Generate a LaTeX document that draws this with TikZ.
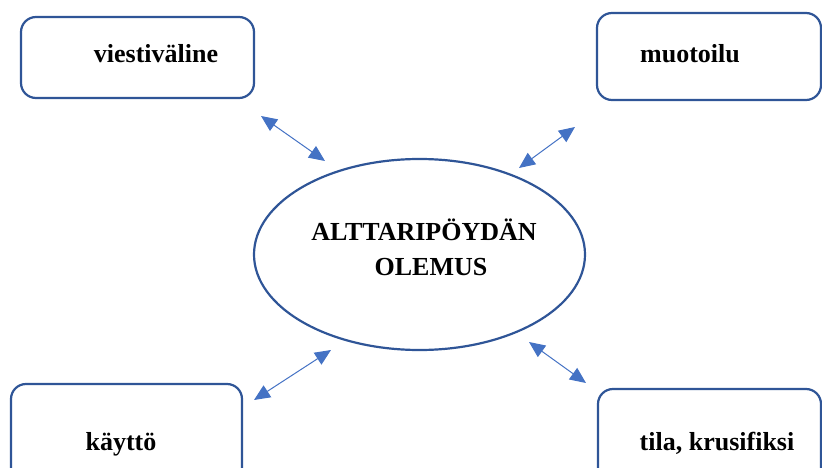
\documentclass[tikz,border=0pt]{standalone}
\usepackage{fontspec}
\setmainfont{Liberation Serif}
\usetikzlibrary{arrows.meta,shapes.geometric}
\definecolor{frameblue}{HTML}{2F5597}
\definecolor{arrowblue}{HTML}{4472C4}
\tikzset{
  topicbox/.style={draw=frameblue, line width=2.2pt, rounded corners=15pt,
    inner sep=0pt, fill=white},
  label26/.style={font=\fontsize{26}{35}\selectfont\bfseries, inner sep=0pt},
  linkarrow/.style={draw=arrowblue, line width=1pt,
    {Triangle[length=16pt,width=14pt]}-{Triangle[length=16pt,width=14pt]}}
}
\begin{document}
\begin{tikzpicture}[x=1pt,y=-1pt]
  \useasboundingbox (0,0) rectangle (822,468);
  \clip (0,0) rectangle (822,468);

  % four topic boxes
  \node[topicbox, minimum width=233pt, minimum height=81pt] (b1) at (137.5,57.5) {};
  \node[topicbox, minimum width=224pt, minimum height=87pt] (b2) at (709,56.5) {};
  \node[topicbox, minimum width=231pt, minimum height=100pt] (b3) at (126.5,434) {};
  \node[topicbox, minimum width=223pt, minimum height=100pt] (b4) at (709.5,439) {};

  \node[label26, anchor=base] (t1) at (156,63) {viestiväline};
  \node[label26, anchor=base] (t2) at (690,63) {muotoilu};
  \node[label26, anchor=base] (t3) at (121,450.5) {käyttö};
  \node[label26, anchor=base] (t4) at (717,450.5) {tila, krusifiksi};

  % central ellipse
  \node[ellipse, draw=frameblue, line width=2.2pt, minimum width=331pt,
        minimum height=191pt, inner sep=0pt] (c) at (419.5,254.5) {};
  \node[label26, align=center] (ct) at (424,247) {ALTTARIPÖYDÄN\\\hspace*{14pt}OLEMUS};

  % arrow end points
  \coordinate (a1s) at (261,116);
  \coordinate (a1e) at (325,161);
  \coordinate (a2s) at (575,127);
  \coordinate (a2e) at (519,168);
  \coordinate (a3s) at (331,350);
  \coordinate (a3e) at (254,400);
  \coordinate (a4s) at (529,342);
  \coordinate (a4e) at (586,383);

  \draw[linkarrow] (a1s) -- (a1e);
  \draw[linkarrow] (a2s) -- (a2e);
  \draw[linkarrow] (a3s) -- (a3e);
  \draw[linkarrow] (a4s) -- (a4e);
\end{tikzpicture}
\end{document}
